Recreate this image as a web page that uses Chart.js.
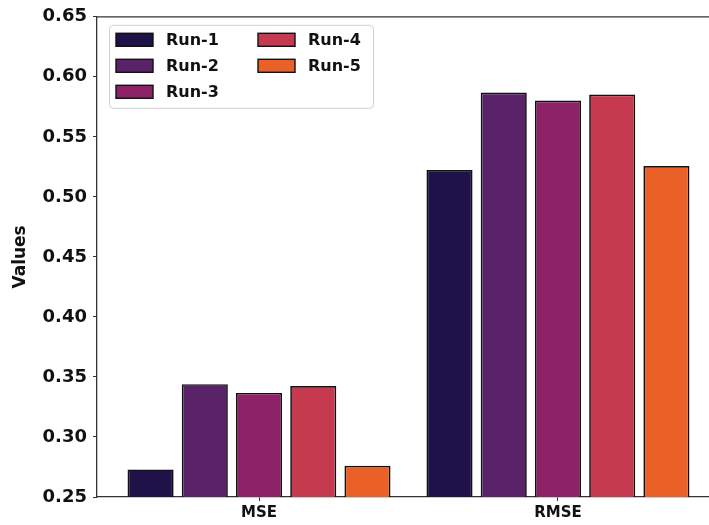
<!DOCTYPE html>
<html>
<head>
<meta charset="utf-8">
<script src="https://cdn.jsdelivr.net/npm/chart.js@4.4.1/dist/chart.umd.min.js"></script>
<style>
    html, body { margin: 0; padding: 0; background: #ffffff; overflow: hidden; }
    #wrap { width: 709px; height: 525px; overflow: hidden; }
</style>
</head>
<body>
<div id="wrap"><canvas id="ChartCanvas" width="720" height="525"></canvas></div>
<script>
// Data
const metrics    = ['MSE', 'RMSE'];
const runs       = ['Run-1', 'Run-2', 'Run-3', 'Run-4', 'Run-5'];
const mseValues  = [0.273, 0.344, 0.3367, 0.3425, 0.276];
const rmseValues = [0.5224, 0.5869, 0.5803, 0.5853, 0.5257];
const runColors  = ['#1f1249', '#5a2369', '#8e2266', '#c63a50', '#ea6128'];
const yTicks     = [0.25, 0.30, 0.35, 0.40, 0.45, 0.50, 0.55, 0.60, 0.65];

Initialize();

function Initialize()
{
    const ctx = document.getElementById('ChartCanvas').getContext('2d');
    const axisColor = '#333333';
    const fontFamily = "'DejaVu Sans', sans-serif";

    // Frame round the plot and a two-column legend like matplotlib's
    const framePlugin =
    {
        id: 'frame',
        afterDraw(chart)
        {
            const c = chart.ctx;
            const a = chart.chartArea;
            c.save();
            c.strokeStyle = axisColor;
            c.lineWidth = 1.3;
            c.beginPath();
            c.moveTo(a.left, a.top);
            c.lineTo(a.right, a.top);
            c.stroke();

            // legend box
            const bx = a.left + 12, by = a.top + 8, bw = 264, bh = 83;
            c.fillStyle = 'rgba(255,255,255,0.85)';
            c.strokeStyle = '#d0d0d0';
            c.lineWidth = 1;
            c.beginPath();
            c.roundRect(bx + 0.5, by + 0.5, bw, bh, 4);
            c.fill();
            c.stroke();

            c.font = "bold 16px " + fontFamily;
            c.textBaseline = 'middle';
            chart.data.datasets.forEach((ds, i) =>
            {
                const col = Math.floor(i / 3);
                const row = i % 3;
                const sx = bx + 7 + col * 142;
                const sy = by + 15 + row * 26;
                c.fillStyle = ds.backgroundColor;
                c.fillRect(sx, sy - 6.5, 37, 13);
                c.strokeStyle = '#111111';
                c.lineWidth = 1.4;
                c.strokeRect(sx, sy - 6.5, 37, 13);
                c.fillStyle = '#111111';
                c.fillText(ds.label, sx + 50, sy + 1);
            });
            c.restore();
        }
    };

    const chart = new Chart(ctx,
    {
        type: 'bar',
        data:
        {
            datasets: runs.map((run, i) => (
            {
                label: run,
                data: [ { x: 0, y: mseValues[i] }, { x: 1, y: rmseValues[i] } ],
                backgroundColor: runColors[i],
                borderColor: '#111111',
                borderWidth: 1.7,
                categoryPercentage: 0.907,
                barPercentage: 0.85
            }))
        },
        options:
        {
            responsive: false,
            animation: false,
            layout: { padding: { top: 16, right: 0, bottom: 0, left: 0 } },
            plugins:
            {
                legend: { display: false },
                tooltip: { enabled: false }
            },
            scales:
            {
                x:
                {
                    type: 'linear',
                    offset: false,
                    min: -0.542,
                    max: 1.542,
                    afterBuildTicks: scale => { scale.ticks = metrics.map((m, i) => ({ value: i })); },
                    afterFit: scale => { scale.height = 28; },
                    ticks:
                    {
                        callback: value => metrics[value],
                        color: '#111111',
                        font: { family: fontFamily, size: 15, weight: 'bold' },
                        padding: 3,
                        maxRotation: 0
                    },
                    grid: { display: true, offset: false, drawOnChartArea: false, drawTicks: true, tickLength: 4, color: axisColor },
                    border: { display: true, color: axisColor, width: 1.3 }
                },
                y:
                {
                    min: 0.25,
                    max: 0.65,
                    afterBuildTicks: scale => { scale.ticks = yTicks.map(v => ({ value: v })); },
                    afterFit: scale => { scale.width = 97; },
                    ticks:
                    {
                        callback: value => value.toFixed(2),
                        color: '#111111',
                        font: { family: fontFamily, size: 18, weight: 'bold' },
                        padding: 6
                    },
                    grid: { display: true, drawOnChartArea: false, drawTicks: true, tickLength: 4, color: axisColor },
                    border: { display: true, color: axisColor, width: 1.3 },
                    title:
                    {
                        display: true,
                        text: 'Values',
                        color: '#111111',
                        font: { family: fontFamily, size: 17, weight: 'bold' },
                        padding: { top: 10, bottom: 0 }
                    }
                }
            }
        },
        plugins: [framePlugin]
    });
}
</script>
</body>
</html>
